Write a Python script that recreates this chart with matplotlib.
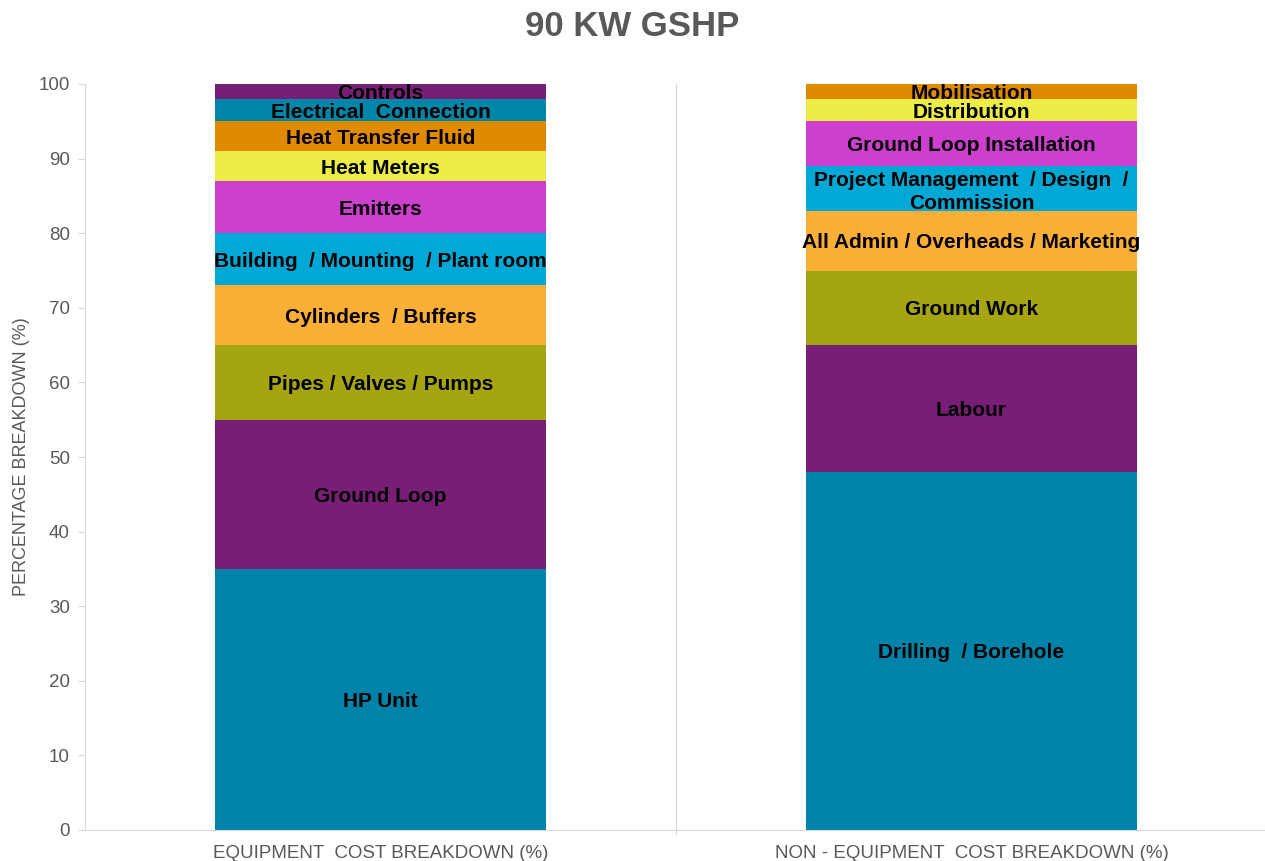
import numpy as np
import matplotlib.pyplot as plt

# stacked cost breakdown for a 90 kW ground source heat pump
categories = ['EQUIPMENT  COST BREAKDOWN (%)', 'NON - EQUIPMENT  COST BREAKDOWN (%)']

equip_labels = ['HP Unit', 'Ground Loop', 'Pipes / Valves / Pumps', 'Cylinders  / Buffers',
                'Building  / Mounting  / Plant room', 'Emitters', 'Heat Meters',
                'Heat Transfer Fluid', 'Electrical  Connection', 'Controls']
equip_values = [35, 20, 10, 8, 7, 7, 4, 4, 3, 2]
equip_colors = ['#0083A9', '#781E77', '#A5A512', '#FBAF37', '#00A8D5',
                '#CC3FCF', '#EDED47', '#E08A00', '#0086A8', '#781E77']

non_labels = ['Drilling  / Borehole', 'Labour', 'Ground Work',
              'All Admin / Overheads / Marketing',
              'Project Management  / Design  /\nCommission',
              'Ground Loop Installation', 'Distribution', 'Mobilisation']
non_values = [48, 17, 10, 8, 6, 6, 3, 2]
non_colors = ['#0083A9', '#781E77', '#A5A512', '#FBAF37', '#00A8D5',
              '#CC3FCF', '#EDED47', '#E08A00']

plt.rcParams['font.family'] = ['Liberation Sans', 'DejaVu Sans']

fig = plt.figure(figsize=(12.65, 8.61), dpi=100)
ax = fig.add_axes([85 / 1265, 31 / 861, 1182 / 1265, 746 / 861])

width = 0.56
for xi, (labels, vals, cols) in enumerate([(equip_labels, equip_values, equip_colors),
                                           (non_labels, non_values, non_colors)]):
    bottom = 0
    for lab, v, c in zip(labels, vals, cols):
        ax.bar(xi, v, width, bottom=bottom, color=c, linewidth=0)
        ax.text(xi, bottom + v / 2, lab, ha='center', va='center_baseline', fontsize=15,
                fontweight='bold', color='black', linespacing=1.25)
        bottom += v

ax.set_xlim(-0.5, 1.5)
ax.set_ylim(0, 100)
ax.set_yticks(np.arange(0, 101, 10))
ax.set_xticks([0, 1])
ax.set_xticklabels(categories, fontsize=13.5, color='#595959')
ax.tick_params(axis='x', length=0, pad=11)
ax.tick_params(axis='y', colors='#D9D9D9', labelcolor='#595959', labelsize=13.5, length=5, pad=6)
ax.axvline(0.5, color='#D9D9D9', linewidth=0.8, ymin=-0.006, clip_on=False)

for s in ['top', 'right']:
    ax.spines[s].set_visible(False)
for s in ['left', 'bottom']:
    ax.spines[s].set_color('#D9D9D9')

ax.set_ylabel('PERCENTAGE BREAKDOWN (%)', fontsize=13, color='#595959', labelpad=6)

fig.text(0.5, 0.969, '90 KW GSHP', ha='center', va='center', fontsize=25,
         fontweight='bold', color='#595959')

fig.savefig('out.png', dpi=100)
